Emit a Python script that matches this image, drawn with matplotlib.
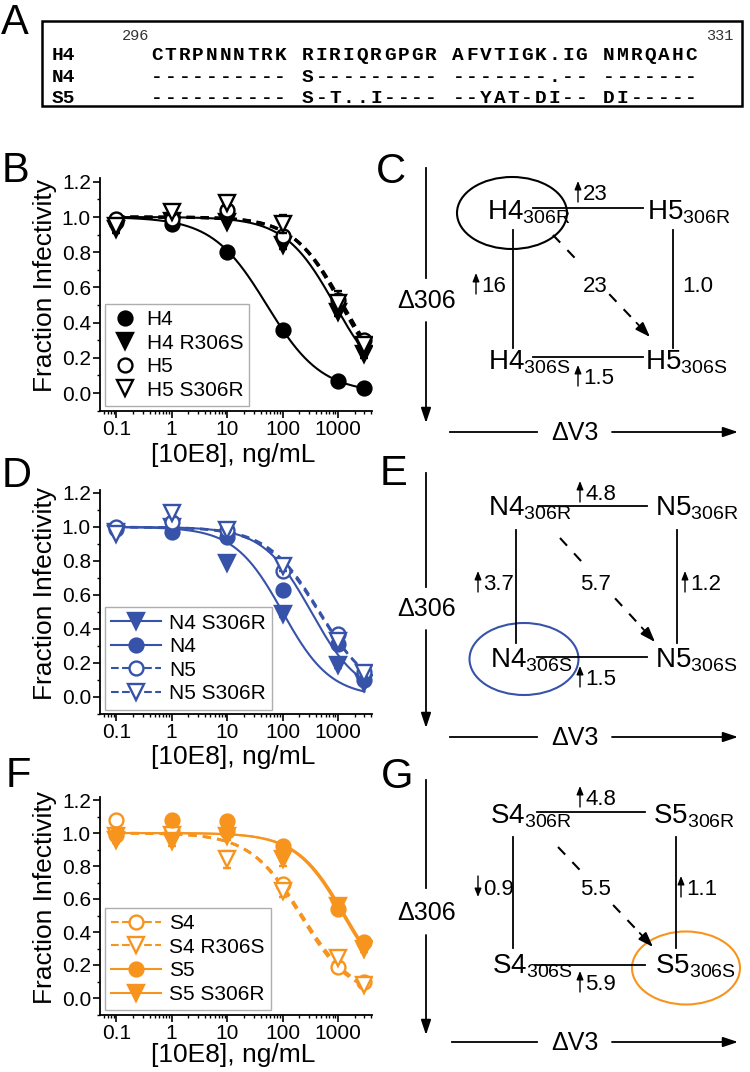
import numpy as np
import matplotlib
matplotlib.use("Agg")
import matplotlib.pyplot as plt
from matplotlib.patches import Ellipse, Rectangle
from matplotlib.lines import Line2D
from matplotlib.ticker import LogLocator, NullFormatter, MultipleLocator

plt.rcParams['font.family'] = ['Liberation Sans', 'DejaVu Sans']
plt.rcParams['mathtext.fontset'] = 'custom'
plt.rcParams['mathtext.rm'] = 'Liberation Sans'
plt.rcParams['mathtext.default'] = 'regular'

# ---------------- data ----------------
conc = [0.1, 1, 10, 100, 1000, 3000]
x_ticks = [0.1, 1, 10, 100, 1000]
x_ticklabels = ['0.1', '1', '10', '100', '1000']
y_ticks = [0.0, 0.2, 0.4, 0.6, 0.8, 1.0, 1.2]

# Panel A alignment
seq_names = ['H4', 'N4', 'S5']
seq_rows = ['CTRPNNNTRK RIRIQRGPGR AFVTIGK.IG NMRQAHC',
            '---------- S--------- -------.-- -------',
            '---------- S-T..I---- --YAT-DI-- DI-----']
seq_start, seq_end = '296', '331'

# Panel B (H4 / H5)
B_names = ['H4', 'H4 R306S', 'H5', 'H5 S306R']
B_H4 = [0.97, 0.96, 0.80, 0.36, 0.07, 0.03]
B_H4_R306S = [0.93, 0.98, 0.97, 0.84, 0.46, 0.22]
B_H5 = [0.99, 0.99, 1.04, 0.89, 0.53, 0.30]
B_H5_S306R = [0.95, 1.03, 1.08, 0.96, 0.51, 0.27]
B_H4_err = [0.01, 0.01, 0.01, 0.01, 0.01, 0.01]
B_H4_R306S_err = [0.02, 0.02, 0.01, 0.02, 0.02, 0.02]
B_H5_err = [0.01, 0.02, 0.02, 0.02, 0.05, 0.03]
B_H5_S306R_err = [0.02, 0.02, 0.02, 0.05, 0.03, 0.03]
B_ic50 = [52, 880, 1230, 1150]
B_hill = [0.88, 0.96, 0.97, 1.0]

# Panel D (N4 / N5)
D_names = ['N4 S306R', 'N4', 'N5', 'N5 S306R']
D_N4_S306R = [0.97, 1.00, 0.79, 0.49, 0.19, 0.08]
D_N4 = [0.99, 0.97, 0.94, 0.63, 0.31, 0.10]
D_N5 = [1.00, 1.03, 0.98, 0.74, 0.37, 0.15]
D_N5_S306R = [0.96, 1.08, 0.98, 0.77, 0.33, 0.14]
D_N4_S306R_err = [0.01, 0.01, 0.01, 0.02, 0.02, 0.01]
D_N4_err = [0.01, 0.01, 0.01, 0.02, 0.02, 0.01]
D_N5_err = [0.01, 0.02, 0.01, 0.03, 0.02, 0.01]
D_N5_S306R_err = [0.01, 0.02, 0.01, 0.03, 0.03, 0.02]
D_ic50 = [100, 330, 450, 470]
D_hill = [1.0, 1.0, 0.9, 0.92]

# Panel F (S4 / S5)
F_names = ['S4', 'S4 R306S', 'S5', 'S5 S306R']
F_S4 = [1.08, 1.01, 1.01, 0.69, 0.19, 0.10]
F_S4_R306S = [0.98, 0.99, 0.84, 0.65, 0.24, 0.08]
F_S5 = [0.99, 1.08, 1.07, 0.92, 0.54, 0.34]
F_S5_S306R = [0.96, 0.95, 0.98, 0.84, 0.56, 0.30]
F_S4_err = [0.01, 0.02, 0.02, 0.03, 0.02, 0.01]
F_S4_R306S_err = [0.01, 0.02, 0.05, 0.04, 0.02, 0.01]
F_S5_err = [0.01, 0.02, 0.02, 0.02, 0.03, 0.02]
F_S5_S306R_err = [0.02, 0.03, 0.02, 0.04, 0.04, 0.02]
F_ic50 = [225, 210, 1350, 1250]
F_hill = [0.93, 0.95, 1.0, 1.0]

# Diagram labels: edges in order top, left, right, diagonal, bottom
C_nodes = [('H4', '306R'), ('H5', '306R'), ('H4', '306S'), ('H5', '306S')]
C_edges = ['\u219123', '\u219116', '1.0', '23', '\u21911.5']
E_nodes = [('N4', '306R'), ('N5', '306R'), ('N4', '306S'), ('N5', '306S')]
E_edges = ['\u21914.8', '\u21913.7', '\u21911.2', '5.7', '\u21911.5']
G_nodes = [('S4', '306R'), ('S5', '306R'), ('S4', '306S'), ('S5', '306S')]
G_edges = ['\u21914.8', '\u21930.9', '\u21911.1', '5.5', '\u21915.9']

BLACK = 'black'
BLUE = '#3753a9'
ORANGE = '#f7941e'

W, H = 750, 1072
fig = plt.figure(figsize=(W / 100, H / 100), dpi=100)


def add_ax(left, right, top, bottom):
    return fig.add_axes([left / W, 1 - bottom / H, (right - left) / W, (bottom - top) / H])


def logistic(x, ic50, hill):
    x = np.asarray(x, float)
    return 1.0 / (1.0 + (x / ic50) ** hill)


def setup(ax):
    ax.set_xscale('log')
    ax.set_xlim(0.051, 4100)
    ax.set_ylim(-0.1, 1.22)
    for s in ['top', 'right']:
        ax.spines[s].set_visible(False)
    for s in ['left', 'bottom']:
        ax.spines[s].set_linewidth(1.3)
    ax.set_xticks(x_ticks)
    ax.set_xticklabels(x_ticklabels)
    ax.xaxis.set_minor_locator(LogLocator(base=10, subs=np.arange(2, 10) * 1.0, numticks=30))
    ax.xaxis.set_minor_formatter(NullFormatter())
    ax.set_yticks(y_ticks)
    ax.set_yticklabels(['%.1f' % v for v in y_ticks])
    ax.yaxis.set_minor_locator(MultipleLocator(0.1))
    ax.tick_params(which='major', length=5, width=1.2, labelsize=15, pad=1.5)
    ax.tick_params(which='minor', length=2.5, width=1.0)


xs = np.logspace(np.log10(0.1), np.log10(3000), 300)


def draw_panel(ax, series, errs, ic50s, hills, styles, color, names, legend_lines, dashes):
    for i, (vals, err) in enumerate(zip(series, errs)):
        marker, filled, ls = styles[i]
        y = logistic(xs, ic50s[i], hills[i])
        if ls == '-':
            ax.plot(xs, y, color=color, lw=1.5, zorder=2)
        else:
            ax.plot(xs, y, color=color, lw=dashes[0], dashes=dashes[1], zorder=2)
        ax.errorbar(conc, vals, yerr=err, fmt=marker, ms=10 if marker == 'o' else 11,
                    mfc=color if filled else 'white', mec=color, mew=1.7,
                    ecolor=color, elinewidth=1.2, capsize=3, capthick=1.2, zorder=3 + i)
    handles = []
    for i in range(4):
        marker, filled, ls = styles[i]
        if legend_lines:
            h = Line2D([], [], color=color, lw=1.5, ls=ls if ls == '-' else '--',
                       marker=marker, ms=10 if marker == 'o' else 11,
                       mfc=color if filled else 'white', mec=color, mew=1.7)
        else:
            h = Line2D([], [], ls='none', marker=marker, ms=10 if marker == 'o' else 11,
                       mfc=color if filled else 'white', mec=color, mew=1.7)
        handles.append(h)
    leg = ax.legend(handles, names, loc='lower left', bbox_to_anchor=(0.018, 0.02),
                    borderaxespad=0, fontsize=15, frameon=True, fancybox=False,
                    handlelength=2.4 if legend_lines else 1.3, handletextpad=0.4,
                    labelspacing=0.22, borderpad=0.3, numpoints=1)
    leg.get_frame().set_edgecolor('#9a9a9a')
    leg.get_frame().set_linewidth(1.0)


# ---- Panel B ----
axB = add_ax(100, 372, 178.3, 410.6)
setup(axB)
draw_panel(axB, [B_H4, B_H4_R306S, B_H5, B_H5_S306R],
           [B_H4_err, B_H4_R306S_err, B_H5_err, B_H5_S306R_err], B_ic50, B_hill,
           [('o', True, '-'), ('v', True, '-'), ('o', False, '--'), ('v', False, '--')],
           BLACK, B_names, False, (2.3, (2.6, 1.8)))

# ---- Panel D ----
axD = add_ax(100, 372, 489.6, 714)
setup(axD)
draw_panel(axD, [D_N4_S306R, D_N4, D_N5, D_N5_S306R],
           [D_N4_S306R_err, D_N4_err, D_N5_err, D_N5_S306R_err], D_ic50, D_hill,
           [('v', True, '-'), ('o', True, '-'), ('o', False, '--'), ('v', False, '--')],
           BLUE, D_names, True, (1.8, (3.2, 2.4)))

# ---- Panel F ----
axF = add_ax(100, 372, 796.7, 1014.5)
setup(axF)
draw_panel(axF, [F_S4, F_S4_R306S, F_S5, F_S5_S306R],
           [F_S4_err, F_S4_R306S_err, F_S5_err, F_S5_S306R_err], F_ic50, F_hill,
           [('o', False, '--'), ('v', False, '--'), ('o', True, '-'), ('v', True, '-')],
           ORANGE, F_names, True, (2.0, (3.0, 2.2)))

# overlay in figure pixel coordinates
ov = fig.add_axes([0, 0, 1, 1], zorder=10)
ov.set_xlim(0, W)
ov.set_ylim(H, 0)
ov.axis('off')
ov.patch.set_alpha(0)

for yc in [285, 594, 897]:
    ov.text(45, yc, 'Fraction Infectivity', rotation=90, ha='center', va='center', fontsize=19)
for yc in [455, 757, 1055]:
    ov.text(233, yc, '[10E8], ng/mL', ha='center', va='center', fontsize=19)

# panel letters
for lab, x, y in [('A', 1, 34), ('B', 2, 182), ('C', 376, 183), ('D', 2, 487),
                  ('E', 380, 485), ('F', 6, 787), ('G', 381, 788)]:
    ov.text(x, y, lab, ha='left', va='baseline', fontsize=30)

# ---- Panel A ----
ov.add_patch(Rectangle((42, 21), 700, 85, fill=False, ec='black', lw=1.8))
mono = 'Liberation Mono'
ov.text(149, 40, seq_start, ha='right', va='baseline', fontsize=11, family=mono, color='#333333')
ov.text(733, 40, seq_end, ha='right', va='baseline', fontsize=11, family=mono, color='#333333')
pitch = 13.7
for name, row, yb in zip(seq_names, seq_rows, [60, 81.5, 103]):
    ov.text(52, yb, name, ha='left', va='baseline', fontsize=14, family=mono, weight='bold')
    for i, ch in enumerate(row):
        if ch != ' ':
            ov.text(151 + i * pitch, yb, ch, ha='left', va='baseline', fontsize=14,
                    family=mono, weight='bold')


# ---- Diagrams ----
def edge_label(x, y, txt):
    if txt[0] in '\u2191\u2193':
        up = txt[0] == '\u2191'
        y0, y1 = (y + 2, y - 19) if up else (y - 19, y + 2)
        ov.annotate('', xy=(x + 3, y1), xytext=(x + 3, y0),
                    arrowprops=dict(arrowstyle='-|>,head_length=0.5,head_width=0.2', lw=1.0,
                                    color='black', shrinkA=0, shrinkB=0))
        ov.text(x + 8, y, txt[1:], ha='left', va='baseline', fontsize=16)
    else:
        ov.text(x, y, txt, ha='left', va='baseline', fontsize=16)


def diagram(nodes, edges, L, ell_color):
    lw = 1.3
    vx = 426
    T, b1, b2, tip = L['v']
    ov.plot([vx, vx], [T, b1], color='black', lw=lw)
    ov.annotate('', xy=(vx, tip), xytext=(vx, b2),
                arrowprops=dict(arrowstyle='-|>,head_length=0.9,head_width=0.3', color='black', lw=lw,
                                shrinkA=0, shrinkB=0))
    ov.text(427, (b1 + b2) / 2 + 8, '\u0394306', ha='center', va='baseline', fontsize=18)
    hy, hx0, hb1, hb2, hx1 = L['h']
    ov.plot([hx0, hb1], [hy, hy], color='black', lw=lw)
    ov.annotate('', xy=(hx1, hy), xytext=(hb2, hy),
                arrowprops=dict(arrowstyle='-|>,head_length=0.9,head_width=0.3', color='black', lw=lw,
                                shrinkA=0, shrinkB=0))
    ov.text((hb1 + hb2) / 2, hy + 8, '\u0394V3', ha='center', va='baseline', fontsize=18)
    for (main, sub), (x, y) in zip(nodes, L['nodes']):
        ov.text(x, y, main + '$_{' + sub + '}$', ha='left', va='baseline', fontsize=20)
    (tx0, tx1, ty), (bx0, bx1, by), (lx, ly0, ly1), (rx, ry0, ry1) = L['lines']
    ov.plot([tx0, tx1], [ty, ty], color='black', lw=lw)
    ov.plot([bx0, bx1], [by, by], color='black', lw=lw)
    ov.plot([lx, lx], [ly0, ly1], color='black', lw=lw)
    ov.plot([rx, rx], [ry0, ry1], color='black', lw=lw)
    # dashed diagonal arrow, broken around its label
    (dx0, dy0), (dx1, dy1) = L['diag']

    def pt(t):
        return dx0 + (dx1 - dx0) * t, dy0 + (dy1 - dy0) * t
    for ta, tb in [(0.0, 0.25), (0.58, 0.86)]:
        (ax0, ay0), (ax1, ay1) = pt(ta), pt(tb)
        ov.plot([ax0, ax1], [ay0, ay1], color='black', lw=lw + 0.2, dashes=(5, 5))
    fx, fy = pt(0.86)
    ov.annotate('', xy=(dx1, dy1), xytext=(fx, fy),
                arrowprops=dict(arrowstyle='-|>,head_length=0.9,head_width=0.32', color='black', lw=lw,
                                shrinkA=0, shrinkB=0))
    for txt, (x, y) in zip(edges, L['labels']):
        edge_label(x, y, txt)
    cx, cy, w, h = L['ell']
    ov.add_patch(Ellipse((cx, cy), w, h, fill=False, ec=ell_color, lw=1.5))


LC = dict(v=(168, 278, 322, 423), h=(432, 450, 537, 612, 738),
          nodes=[(487, 220), (647, 220), (488, 370), (645, 370)],
          lines=[(533, 643, 208), (533, 643, 357), (513, 230, 348), (673, 230, 348)],
          diag=[(553, 235), (650, 337)],
          labels=[(575, 200), (473, 292), (682, 292), (583, 292), (575, 384)],
          ell=(512, 213, 110, 72))
LE = dict(v=(473, 587, 630, 728), h=(737, 450, 537, 612, 738),
          nodes=[(488, 515), (655, 515), (490, 668), (655, 668)],
          lines=[(538, 647, 506), (537, 647, 657), (516, 530, 643), (677, 530, 643)],
          diag=[(560, 538), (655, 642)],
          labels=[(577, 500), (475, 590), (682, 590), (580, 590), (577, 685)],
          ell=(524, 659, 109, 72))
LG = dict(v=(780, 888, 935, 1035), h=(1042, 452, 537, 612, 738),
          nodes=[(490, 823), (653, 823), (492, 974), (655, 974)],
          lines=[(537, 645, 812), (535, 645, 965), (513, 837, 948), (676, 837, 948)],
          diag=[(558, 847), (653, 947)],
          labels=[(577, 805), (475, 895), (678, 895), (580, 895), (577, 990)],
          ell=(686, 968, 108, 73))

diagram(C_nodes, C_edges, LC, 'black')
diagram(E_nodes, E_edges, LE, BLUE)
diagram(G_nodes, G_edges, LG, ORANGE)

fig.savefig('out.png', dpi=100)
